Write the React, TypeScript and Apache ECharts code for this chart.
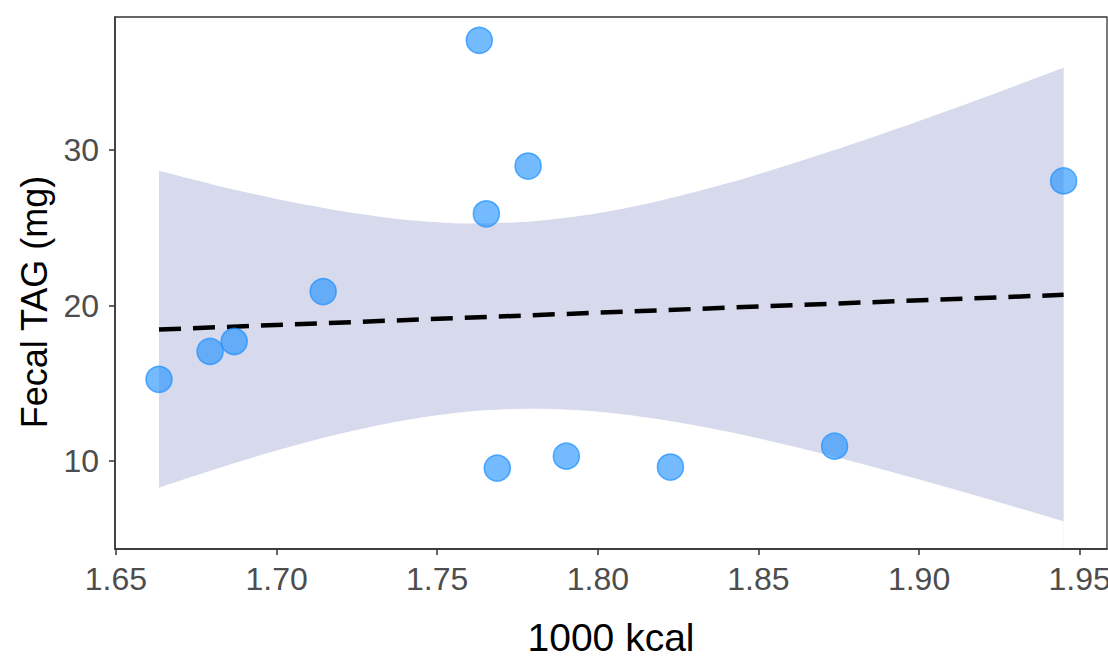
import React, { useEffect, useRef } from "react";
import * as echarts from "echarts";

const pointX = [1.6634, 1.6793, 1.6868, 1.7145, 1.7631, 1.7653, 1.7783, 1.7687, 1.7902, 1.8226, 1.8737, 1.945];
const pointY = [15.26, 17.05, 17.69, 20.9, 37.05, 25.9, 28.97, 9.55, 10.32, 9.62, 10.96, 28.01];

const fitX = [1.6634, 1.945];
const fitY = [18.46, 20.69];

const ribbonX = [1.6634, 1.68, 1.7, 1.72, 1.74, 1.76, 1.78, 1.8, 1.82, 1.84, 1.86, 1.88, 1.9, 1.92, 1.945];
const ribbonUpper = [28.66, 27.79, 26.85, 26.08, 25.52, 25.28, 25.42, 25.93, 26.77, 27.84, 29.09, 30.43, 31.87, 33.36, 35.28];
const ribbonLower = [8.26, 9.39, 10.65, 11.74, 12.6, 13.16, 13.34, 13.15, 12.63, 11.88, 10.95, 9.91, 8.79, 7.62, 6.1];

const xTicks = [1.65, 1.7, 1.75, 1.8, 1.85, 1.9, 1.95];
const yTicks = [10, 20, 30];

const FONT = "'Liberation Sans', Arial, Helvetica, sans-serif";

export default function App() {
  const ref = useRef<HTMLDivElement>(null);
  useEffect(() => {
    if (!ref.current) return;
    const chart = echarts.init(ref.current, null, { renderer: "svg" });
    chart.setOption({
      animation: false,
      backgroundColor: "#ffffff",
      textStyle: { fontFamily: FONT },
      grid: {
        left: 115,
        top: 17,
        right: 1,
        bottom: 109,
        containLabel: false,
        outerBoundsMode: "none",
        show: true,
        borderColor: "#333333",
        borderWidth: 1.3,
        backgroundColor: "transparent",
        z: 10,
      },
      xAxis: {
        type: "value",
        min: 1.6497,
        max: 1.9585,
        name: "1000 kcal",
        nameLocation: "middle",
        nameGap: 69,
        nameTextStyle: { fontSize: 39, color: "#000000", fontFamily: FONT },
        axisLine: { show: true, lineStyle: { color: "#333333", width: 1.5 } },
        axisTick: { show: true, length: 6, lineStyle: { color: "#333333", width: 1.5 }, customValues: xTicks },
        axisLabel: {
          show: true,
          fontSize: 32,
          color: "#4D4D4D",
          margin: 14,
          fontFamily: FONT,
          customValues: xTicks,
          hideOverlap: false,
          formatter: (v: number) => v.toFixed(2),
        },
        splitLine: { show: false },
        z: 10,
      },
      yAxis: {
        type: "value",
        min: 4.35,
        max: 38.55,
        name: "Fecal TAG (mg)",
        nameLocation: "middle",
        nameGap: 61,
        nameTextStyle: { fontSize: 36, color: "#000000", fontFamily: FONT, padding: [0, 38, 0, 0] },
        axisLine: { show: true, lineStyle: { color: "#333333", width: 1.5 } },
        axisTick: { show: true, length: 6, lineStyle: { color: "#333333", width: 1.5 }, customValues: yTicks },
        axisLabel: {
          show: true,
          fontSize: 32,
          color: "#4D4D4D",
          margin: 16,
          fontFamily: FONT,
          customValues: yTicks,
        },
        splitLine: { show: false },
        z: 10,
      },
      series: [
        {
          type: "line",
          name: "ciUpper",
          smooth: 0.3,
          symbol: "none",
          silent: true,
          lineStyle: { width: 0, opacity: 0 },
          areaStyle: { color: "#D7D9EC", opacity: 1, origin: "start" },
          data: ribbonX.map((x, i) => [x, ribbonUpper[i]]),
          z: 1,
        },
        {
          type: "line",
          name: "ciLower",
          smooth: 0.3,
          symbol: "none",
          silent: true,
          lineStyle: { width: 1, color: "#ffffff" },
          areaStyle: { color: "#ffffff", opacity: 1, origin: "start" },
          data: ribbonX.map((x, i) => [x, ribbonLower[i]]),
          z: 1.5,
        },
        {
          type: "line",
          name: "fit",
          symbol: "none",
          silent: true,
          lineStyle: { color: "#000000", width: 4.5, type: [22, 12] },
          data: fitX.map((x, i) => [x, fitY[i]]),
          z: 2,
        },
        {
          type: "scatter",
          name: "points",
          symbol: "circle",
          symbolSize: 26,
          itemStyle: {
            color: "rgba(30,144,255,0.78)",
            borderColor: "rgba(30,144,255,0.92)",
            borderWidth: 1.5,
          },
          data: pointX.map((x, i) => [x, pointY[i]]),
          z: 3,
        },
      ],
    });
    return () => chart.dispose();
  }, []);
  return (
    <div
      ref={ref}
      style={{ position: "absolute", left: 0, top: 0, width: 1108, height: 658 }}
    />
  );
}
